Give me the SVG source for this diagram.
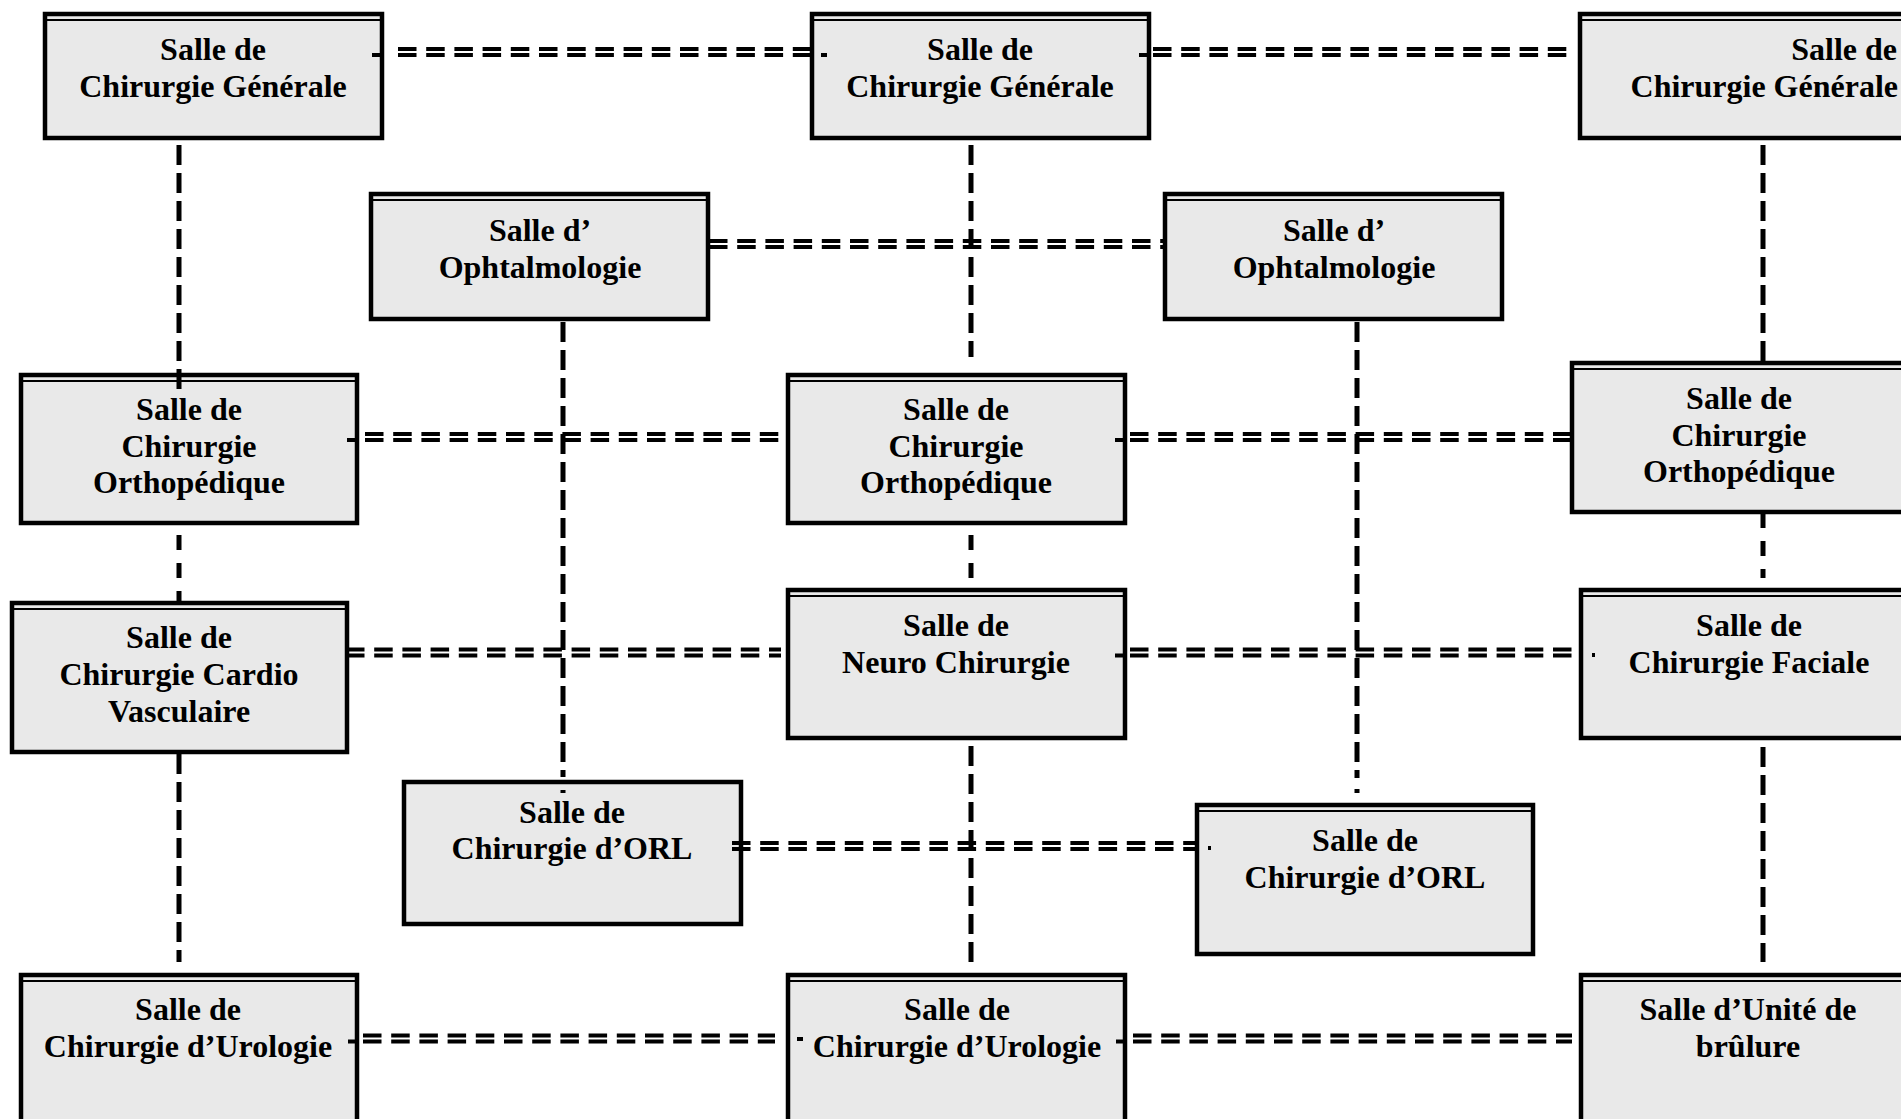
<svg xmlns="http://www.w3.org/2000/svg" width="1901" height="1119" viewBox="0 0 1901 1119">
<style>
.box{fill:#e9e9e9;stroke:#000;stroke-width:4.5}
.dbl{stroke:#000;stroke-width:2.2;fill:none}
text{font-family:"Liberation Serif","Times New Roman",serif;font-weight:bold;font-size:32px;fill:#000;text-anchor:middle}
.end{text-anchor:end}
.h{stroke:#000;stroke-width:3.8;fill:none;stroke-dasharray:18.5 9.7}
.v{stroke:#000;stroke-width:5;fill:none;stroke-dasharray:20 8}
.vb{stroke:#000;stroke-width:5;fill:none;stroke-dasharray:15 13}
</style>
<rect width="1901" height="1119" fill="#fff"/>
<g id="nodes">
<g id="gen-a"><rect class="box" x="45" y="14" width="337" height="124"/><line class="dbl" x1="45" y1="20" x2="382" y2="20"/><text x="213" y="60">Salle de</text><text x="213" y="97">Chirurgie Générale</text></g>
<g id="gen-b"><rect class="box" x="812" y="14" width="337" height="124"/><line class="dbl" x1="812" y1="20" x2="1149" y2="20"/><text x="980" y="60">Salle de</text><text x="980" y="97">Chirurgie Générale</text></g>
<g id="gen-c"><rect class="box" x="1580" y="14" width="360" height="124"/><line class="dbl" x1="1580" y1="20" x2="1940" y2="20"/><text class="end" x="1897" y="60">Salle de</text><text class="end" x="1898" y="97">Chirurgie Générale</text></g>
<g id="oph-a"><rect class="box" x="371" y="194" width="337" height="125"/><line class="dbl" x1="371" y1="200" x2="708" y2="200"/><text x="540" y="241">Salle d’</text><text x="540" y="278">Ophtalmologie</text></g>
<g id="oph-b"><rect class="box" x="1165" y="194" width="337" height="125"/><line class="dbl" x1="1165" y1="200" x2="1502" y2="200"/><text x="1334" y="241">Salle d’</text><text x="1334" y="278">Ophtalmologie</text></g>
<g id="ortho-a"><rect class="box" x="21" y="375" width="336" height="148"/><line class="dbl" x1="21" y1="381" x2="357" y2="381"/><text x="189" y="420">Salle de</text><text x="189" y="457">Chirurgie</text><text x="189" y="493">Orthopédique</text></g>
<g id="ortho-b"><rect class="box" x="788" y="375" width="337" height="148"/><line class="dbl" x1="788" y1="381" x2="1125" y2="381"/><text x="956" y="420">Salle de</text><text x="956" y="457">Chirurgie</text><text x="956" y="493">Orthopédique</text></g>
<g id="ortho-c"><rect class="box" x="1572" y="363" width="360" height="149"/><line class="dbl" x1="1572" y1="369" x2="1932" y2="369"/><text x="1739" y="409">Salle de</text><text x="1739" y="446">Chirurgie</text><text x="1739" y="482">Orthopédique</text></g>
<g id="cardio"><rect class="box" x="12" y="603" width="335" height="149"/><line class="dbl" x1="12" y1="609" x2="347" y2="609"/><text x="179" y="648">Salle de</text><text x="179" y="685">Chirurgie Cardio</text><text x="179" y="722">Vasculaire</text></g>
<g id="neuro"><rect class="box" x="788" y="590" width="337" height="148"/><line class="dbl" x1="788" y1="596" x2="1125" y2="596"/><text x="956" y="636">Salle de</text><text x="956" y="673">Neuro Chirurgie</text></g>
<g id="faciale"><rect class="box" x="1581" y="590" width="360" height="148"/><line class="dbl" x1="1581" y1="596" x2="1941" y2="596"/><text x="1749" y="636">Salle de</text><text x="1749" y="673">Chirurgie Faciale</text></g>
<g id="orl-a"><rect class="box" x="404" y="782" width="337" height="142"/><text x="572" y="823">Salle de</text><text x="572" y="859">Chirurgie d’ORL</text></g>
<g id="orl-b"><rect class="box" x="1197" y="805" width="336" height="149"/><line class="dbl" x1="1197" y1="811" x2="1533" y2="811"/><text x="1365" y="851">Salle de</text><text x="1365" y="888">Chirurgie d’ORL</text></g>
<g id="uro-a"><rect class="box" x="21" y="975" width="336" height="200"/><line class="dbl" x1="21" y1="981" x2="357" y2="981"/><text x="188" y="1020">Salle de</text><text x="188" y="1057">Chirurgie d’Urologie</text></g>
<g id="uro-b"><rect class="box" x="788" y="975" width="337" height="200"/><line class="dbl" x1="788" y1="981" x2="1125" y2="981"/><text x="957" y="1020">Salle de</text><text x="957" y="1057">Chirurgie d’Urologie</text></g>
<g id="brulure"><rect class="box" x="1581" y="975" width="360" height="200"/><line class="dbl" x1="1581" y1="981" x2="1941" y2="981"/><text x="1748" y="1020">Salle d’Unité de</text><text x="1748" y="1057">brûlure</text></g>
</g>
<g id="connectors">
<path class="h" d="M398 49H810"/><path class="h" d="M372 55h10M398 55H827"/>
<path class="h" d="M1153 49H1572"/><path class="h" d="M1139 55h8M1153 55H1572"/>
<path class="h" d="M709 241H1165"/><path class="h" d="M709 247H1165"/>
<path class="h" d="M365 434H781"/><path class="h" d="M347 440h10M365 440H781"/>
<path class="h" d="M1130 434H1570"/><path class="h" d="M1115 440h10M1130 440H1570"/>
<path class="h" d="M346 649.5H781"/><path class="h" d="M346 655.5H781"/>
<path class="h" d="M1130 649.5H1580"/><path class="h" d="M1115 655.5h10M1130 655.5H1580M1592 655h3"/>
<path class="h" d="M732 843H1195"/><path class="h" d="M732 849H1195M1208 848h3"/>
<path class="h" d="M363 1035.5H775"/><path class="h" d="M348 1041.5h10M363 1041.5H775M797 1039h6"/>
<path class="h" d="M1133 1035.5H1572"/><path class="h" d="M1116 1041.5h10M1133 1041.5H1572"/>
<path class="v" d="M179 145V390"/>
<path class="vb" d="M179 535V601"/>
<path class="v" d="M179 754V962"/>
<path class="v" d="M971 145V357"/>
<path class="vb" d="M971 535V578"/>
<path class="v" d="M971 746V962"/>
<path class="v" d="M1763 145V361"/>
<path class="vb" d="M1763 513V578"/>
<path class="v" d="M1763 747V962"/>
<path class="v" d="M563 322V777M563 790v3"/>
<path class="v" d="M1357 322V778M1357 789v4"/>
</g>
</svg>
